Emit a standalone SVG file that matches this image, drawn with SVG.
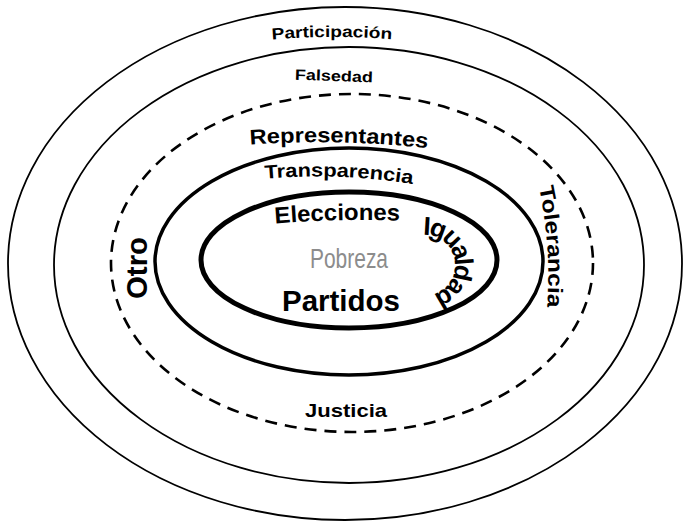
<svg xmlns="http://www.w3.org/2000/svg" width="684" height="523" viewBox="0 0 684 523">
<style>
.ring{fill:none;stroke:#000}
.thin{stroke-width:1.8}
.dash{stroke-width:2.6;stroke-dasharray:12 8}
.thick{stroke-width:3.5}
.inner{stroke-width:5}
.lbl{font-family:"Liberation Sans",Arial,sans-serif;font-weight:bold;fill:#000}
.pob{font-family:"Liberation Sans",Arial,sans-serif;fill:#8c8c8c}
</style>
<defs>
<path id="pPart" d="M 265 40 Q 332 34 400 40"/>
<path id="pRep" d="M 245 145 Q 340 138 435 149"/>
<path id="pTrans" d="M 262 179 Q 340 172 418 185"/>
<path id="pElec" d="M 270 224 Q 338 218 405 221"/>
<path id="pTol" d="M 538 183 Q 553 250 546 320"/>
<path id="pIgu" d="M 405.7 242 A 30 30 0 1 1 414.7 293.2"/>
</defs>
<rect width="684" height="523" fill="#fff"/>
<g id="ring-participacion">
<ellipse class="ring thin" cx="345" cy="263.5" rx="337" ry="256.5"/>
<text class="lbl" font-size="16"><textPath href="#pPart" startOffset="7" textLength="120" lengthAdjust="spacingAndGlyphs">Participación</textPath></text>
</g>
<g id="ring-falsedad">
<ellipse class="ring thin" cx="349" cy="265" rx="295" ry="218"/>
<text class="lbl" font-size="15" x="295" y="81" textLength="78" lengthAdjust="spacingAndGlyphs" transform="rotate(2 334 76)">Falsedad</text>
</g>
<g id="ring-representantes">
<ellipse class="ring dash" cx="352" cy="263" rx="241" ry="169"/>
<text class="lbl" font-size="21"><textPath href="#pRep" startOffset="5" textLength="178" lengthAdjust="spacingAndGlyphs">Representantes</textPath></text>
<text class="lbl" font-size="30" transform="translate(147,299) rotate(-90)" textLength="62" lengthAdjust="spacingAndGlyphs">Otro</text>
<text class="lbl" font-size="21"><textPath href="#pTol" startOffset="4" textLength="121" lengthAdjust="spacingAndGlyphs">Tolerancia</textPath></text>
<text class="lbl" font-size="19" x="305" y="417" textLength="82" lengthAdjust="spacingAndGlyphs">Justicia</text>
</g>
<g id="ring-transparencia">
<ellipse class="ring thick" cx="349" cy="261.5" rx="194" ry="113.5"/>
<text class="lbl" font-size="19"><textPath href="#pTrans" startOffset="3" textLength="148" lengthAdjust="spacingAndGlyphs">Transparencia</textPath></text>
</g>
<g id="ring-centro">
<ellipse class="ring inner" cx="349" cy="260" rx="148" ry="68"/>
<text class="lbl" font-size="23"><textPath href="#pElec" startOffset="5" textLength="125" lengthAdjust="spacingAndGlyphs">Elecciones</textPath></text>
<text class="lbl" font-size="26"><textPath href="#pIgu" startOffset="19" textLength="88" lengthAdjust="spacing">Igualdad</textPath></text>
<text class="pob" font-size="28" x="310" y="268" textLength="78" lengthAdjust="spacingAndGlyphs">Pobreza</text>
<text class="lbl" font-size="29" x="282" y="311" textLength="118" lengthAdjust="spacingAndGlyphs">Partidos</text>
</g>
</svg>
